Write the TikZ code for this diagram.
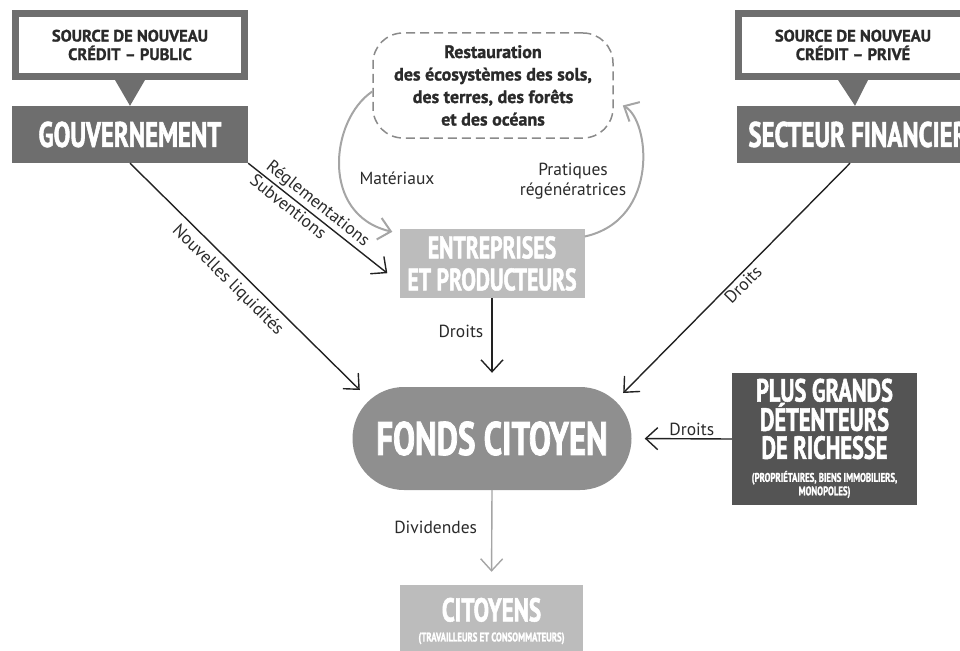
\documentclass[tikz,border=0pt]{standalone}
\usepackage{fontspec}
\setmainfont{PT Sans}
\newfontfamily\condfont{PT Sans}[FakeStretch=0.70, FakeBold=1.6]
\newfontfamily\heavyfont{PT Sans}[FakeBold=1.2]
\usetikzlibrary{arrows.meta,calc,shapes.misc}

\definecolor{govgray}{HTML}{6E6E6E}
\definecolor{fundgray}{HTML}{8F8F8F}
\definecolor{lightbox}{HTML}{BCBCBC}
\definecolor{richgray}{HTML}{545454}
\definecolor{dashgray}{HTML}{8A8A8A}
\definecolor{curvegray}{HTML}{A5A5A5}
\definecolor{arrowblack}{HTML}{222222}
\definecolor{darktext}{HTML}{2A2A2A}

\begin{document}
\begin{tikzpicture}[x=1pt, y=-1pt,
  box/.style={inner sep=0pt, align=center, text=white, font=\condfont\bfseries\fontsize{#1}{#1}\selectfont},
  callout/.style={draw=govgray, line width=7pt, fill=white, minimum width=229pt, minimum height=63pt,
    inner sep=0pt, align=center, text=darktext, font=\heavyfont\bfseries\fontsize{16.5}{18.5}\selectfont},
  flow/.style={-{Straight Barb[length=12pt,width=22pt]}, draw=arrowblack, line width=1.4pt},
  natflow/.style={flow, draw=curvegray, line width=2pt},
  lbl/.style={text=darktext, inner sep=2pt, font=\fontsize{17.5}{20}\selectfont, align=center}]
\useasboundingbox (0,0) rectangle (960,650);
%Credit sources
\node[callout] (srcpub) at (130,45) {SOURCE DE NOUVEAU\\CRÉDIT – PUBLIC};
\node[callout] (srcpriv) at (853,45) {SOURCE DE NOUVEAU\\CRÉDIT – PRIVÉ};
\node[box=35.5, fill=govgray, minimum width=236pt, minimum height=57pt] (gouv) at (130,134.5) {GOUVERNEMENT};
\node[box=35.5, fill=govgray, minimum width=242pt, minimum height=57pt] (fin) at (858,134.5) {SECTEUR FINANCIER};
\fill[govgray] ($(srcpub.south)+(-15,0)$) -- ($(srcpub.south)+(15,0)$) -- (gouv.north) -- cycle;
\fill[govgray] ($(srcpriv.south)+(-15,0)$) -- ($(srcpriv.south)+(15,0)$) -- ($(fin.north)+(-3,0)$) -- cycle;
%Middle column
\node[draw=dashgray, dash pattern=on 9pt off 5pt, line width=1.5pt, rounded corners=30pt, minimum width=240pt, minimum height=105pt,
  align=center, text=darktext, font=\heavyfont\bfseries\fontsize{18}{22.5}\selectfont] (eco) at (493,85.5)
  {Restauration\\des écosystèmes des sols,\\des terres, des forêts\\et des océans};
\node[box=31, fill=lightbox, minimum width=185pt, minimum height=69pt, font=\condfont\bfseries\fontsize{31}{32}\selectfont] (ent) at (492,263.5) {ENTREPRISES\\ET PRODUCTEURS};
\node[box=47, fill=fundgray, rounded rectangle, minimum width=279pt, minimum height=103pt] (fonds) at (492,438.5) {FONDS CITOYEN};
\node[box=33, fill=lightbox, minimum width=183pt, minimum height=72pt] (cit) at (491.5,621)
  {CITOYENS\\[-13pt]{\fontsize{12.5}{14}\selectfont (TRAVAILLEURS ET CONSOMMATEURS)}};
\node[box=31, fill=richgray, minimum width=185pt, minimum height=132pt, font=\condfont\bfseries\fontsize{32}{28}\selectfont] (rich) at (824.5,439)
  {PLUS GRANDS\\DÉTENTEURS\\DE RICHESSE\\[-5pt]{\fontsize{12.5}{13.5}\selectfont\begin{tabular}[t]{@{}c@{}}(PROPRIÉTAIRES, BIENS IMMOBILIERS,\\MONOPOLES)\end{tabular}}};
%Loop with the ecosystems
\draw[natflow] ($(eco.west)+(0,6)$) .. controls (330,120) and (320,215) .. ($(ent.north west)+(-7,3)$);
\draw[natflow] ($(ent.east)+(0,-27)$) .. controls (660,220) and (650,120) .. ($(eco.east)+(9,20)$);
\node[lbl] (matlbl) at (397,178) {Matériaux};
\node[lbl] (pratlbl) at (573,181) {Pratiques\\régénératrices};
%Flows
\draw[flow] (gouv.south east) -- node[lbl, pos=0.45, sloped, above] {Réglementations}
  node[lbl, pos=0.33, sloped, below] {Subventions} ($(ent.south west)+(-12,-25)$);
\draw[flow] (gouv.south) -- node[lbl, pos=0.47, sloped, below=4pt] {Nouvelles liquidités} ($(fonds.west)+(7.5,-48.5)$);
\draw[flow] ($(fin.south)+(-8,0)$) -- node[lbl, pos=0.5, sloped, below] {Droits} ($(fonds.east)+(-8.5,-45.5)$);
\draw[flow, shorten >=14pt] (ent.south) -- node[lbl, pos=0.38, left=6pt] {Droits} (fonds.north);
\draw[flow, shorten >=13pt] (rich.west) -- node[lbl, pos=0.4, above] {Droits} (fonds.east);
\draw[natflow, line width=1.4pt, shorten >=13pt] (fonds.south) -- node[lbl, pos=0.39, left=12pt] {Dividendes} (cit.north);
\end{tikzpicture}
\end{document}
